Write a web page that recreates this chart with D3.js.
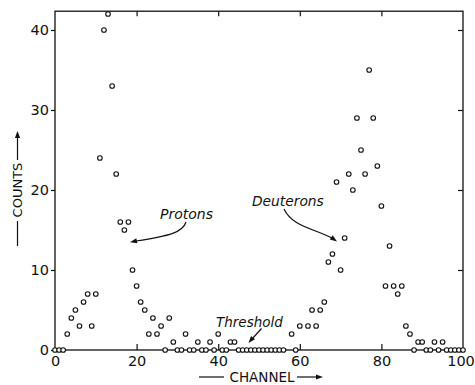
<!DOCTYPE html>
<html>
<head>
<meta charset="utf-8">
<script src="https://cdn.jsdelivr.net/npm/d3@7"></script>
<style>
  html, body { margin: 0; padding: 0; background: #fff; }
  svg { display: block; }
  text { font-family: "DejaVu Sans", sans-serif; fill: #111; }
</style>
</head>
<body>
<svg id="chart" width="475" height="385"></svg>
<script>
// counts per channel, index = channel number (null = no point plotted)
const counts = [
  0, 0, 0, 2, 4, 5, 3, 6, 7, 3,
  7, 24, 40, 42, 33, 22, 16, 15, 16, 10,
  8, 6, 5, 2, 4, 2, 3, 0, 4, 1,
  0, 0, 2, 0, 0, 1, 0, 0, 1, 0,
  2, 0, 0, 1, 1, 0, 0, 0, 0, 0,
  0, 0, 0, 0, 0, 0, 0, null, 2, 0,
  3, null, 3, 5, 3, 5, 6, 11, 12, 21,
  10, 14, 22, 20, 29, 25, 22, 35, 29, 23,
  18, 8, 13, 8, 7, 8, 3, 2, 0, 1,
  1, 0, 0, 1, 0, 1, 0, 0, 0, 0,
  0
];
const xTicks = [0, 20, 40, 60, 80, 100];
const yTicks = [0, 10, 20, 30, 40];

const svg = d3.select('#chart');
const x = d3.scaleLinear().domain([0, 100]).range([55, 463]);
const y = d3.scaleLinear().domain([0, 42.35]).range([350, 11.2]);

const pts = counts.map((c, i) => ({ ch: i, c })).filter(d => d.c !== null);

// frame
svg.append('rect')
  .attr('x', x(0)).attr('y', y(42.35))
  .attr('width', x(100) - x(0)).attr('height', y(0) - y(42.35))
  .attr('fill', 'none').attr('stroke', '#111').attr('stroke-width', 1.3);

// left axis: ticks pointing outward
const gl = svg.append('g').attr('transform', `translate(${x(0)},0)`)
  .call(d3.axisLeft(y).tickValues(yTicks).tickSize(4).tickPadding(2).tickFormat(d3.format('d')));
gl.select('.domain').remove();
gl.selectAll('line').attr('stroke', '#111').attr('stroke-width', 1.2);
gl.selectAll('text').attr('font-size', 14.5).attr('font-family', '"DejaVu Sans", sans-serif').attr('fill', '#111');

// right side ticks, pointing inward
const gr = svg.append('g').attr('transform', `translate(${x(100)},0)`)
  .call(d3.axisLeft(y).tickValues(yTicks.slice(1)).tickSize(5).tickFormat(''));
gr.select('.domain').remove();
gr.selectAll('line').attr('stroke', '#111').attr('stroke-width', 1.2).attr('x2', -5);

// bottom axis: inward ticks
const gb = svg.append('g').attr('transform', `translate(0,${y(0)})`)
  .call(d3.axisBottom(x).tickValues(xTicks).tickSize(0).tickPadding(6).tickFormat(d3.format('d')));
gb.select('.domain').remove();
gb.selectAll('.tick').filter(d => d > 0 && d < 100).append('line')
  .attr('y1', 0).attr('y2', -6).attr('stroke', '#111').attr('stroke-width', 1.2);
gb.selectAll('text').attr('font-size', 14.5).attr('font-family', '"DejaVu Sans", sans-serif').attr('fill', '#111');
gb.selectAll('.tick').filter(d => d === 100).select('text').attr('dx', -2.5);

// top ticks
const gt = svg.append('g').attr('transform', `translate(0,${y(42.35)})`)
  .call(d3.axisTop(x).tickValues(xTicks.slice(1, -1)).tickSize(0).tickFormat(''));
gt.select('.domain').remove();
gt.selectAll('.tick').append('line')
  .attr('y1', 0).attr('y2', 5).attr('stroke', '#111').attr('stroke-width', 1.2);

// points
svg.append('g').selectAll('circle')
  .data(pts).join('circle')
  .attr('cx', d => x(d.ch)).attr('cy', d => y(d.c))
  .attr('r', 2.3)
  .attr('fill', '#fff').attr('stroke', '#111').attr('stroke-width', 1.1);

// arrowhead helper
function arrowHead(tipX, tipY, angle) {
  const L = 7, W = 2.6;
  const bx = tipX - L * Math.cos(angle), by = tipY - L * Math.sin(angle);
  const nx = -Math.sin(angle), ny = Math.cos(angle);
  svg.append('path')
    .attr('d', `M${tipX},${tipY}L${bx + nx * W},${by + ny * W}L${bx - nx * W},${by - ny * W}Z`)
    .attr('fill', '#111');
}
const lineStyle = sel => sel.attr('fill', 'none').attr('stroke', '#111').attr('stroke-width', 1.2);

// axis titles
svg.append('text').attr('x', (x(0) + x(100)) / 2 + 3).attr('y', 382)
  .attr('text-anchor', 'middle').attr('font-size', 13.5).text('CHANNEL');
svg.append('line').attr('x1', 199).attr('x2', 224).attr('y1', 377).attr('y2', 377).call(lineStyle);
svg.append('line').attr('x1', 297).attr('x2', 317).attr('y1', 377).attr('y2', 377).call(lineStyle);
arrowHead(323, 377, 0);

svg.append('text').attr('transform', 'translate(22,190) rotate(-90)')
  .attr('text-anchor', 'middle').attr('font-size', 13).text('COUNTS');
svg.append('line').attr('x1', 17.5).attr('x2', 17.5).attr('y1', 221).attr('y2', 246).call(lineStyle);
svg.append('line').attr('x1', 17.5).attr('x2', 17.5).attr('y1', 160).attr('y2', 138).call(lineStyle);
arrowHead(17.5, 131, -Math.PI / 2);

// annotations
svg.append('text').attr('x', 160).attr('y', 218.5).attr('font-size', 14)
  .attr('font-style', 'italic').text('Protons');
svg.append('path').attr('d', 'M186,222 C183,232 170,236 136,241').call(lineStyle);
arrowHead(130, 242.3, Math.atan2(1.3, -6));

svg.append('text').attr('x', 252).attr('y', 206).attr('font-size', 13.8)
  .attr('font-style', 'italic').text('Deuterons');
svg.append('path').attr('d', 'M284,209 C292,226 312,228 332,238').call(lineStyle);
arrowHead(337, 241.5, Math.atan2(3.5, 5));

svg.append('text').attr('x', 216).attr('y', 326.5).attr('font-size', 13.5)
  .attr('font-style', 'italic').text('Threshold');
svg.append('line').attr('x1', 261.5).attr('y1', 328.5).attr('x2', 252).attr('y2', 339).call(lineStyle);
arrowHead(248.5, 343, Math.atan2(13, -11));
</script>
</body>
</html>
